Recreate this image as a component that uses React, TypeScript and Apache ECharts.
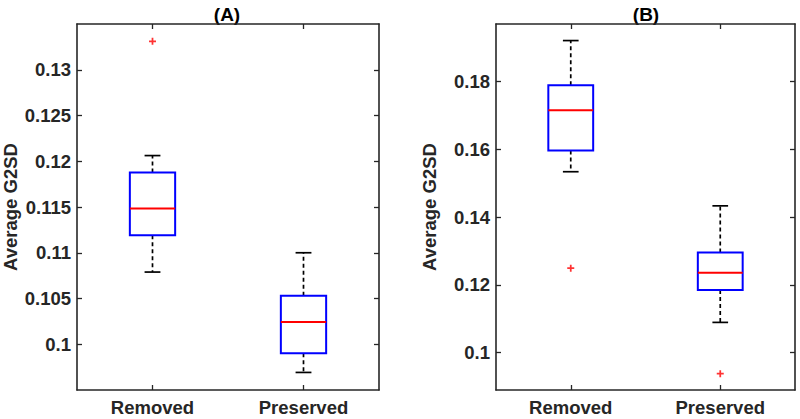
import React, { useEffect, useRef } from "react";
import * as echarts from "echarts";

const categories = ["Removed", "Preserved"];
// [min whisker, Q1, median, Q3, max whisker]
const boxesA = [
  [0.10789, 0.11192, 0.11483, 0.11877, 0.12062],
  [0.09692, 0.09902, 0.10243, 0.10529, 0.110],
];
const outliersA = [[0, 0.13311]];
const boxesB = [
  [0.15341, 0.1597, 0.17155, 0.17894, 0.19211],
  [0.10895, 0.11852, 0.12363, 0.12954, 0.14334],
];
const outliersB = [
  [0, 0.12493],
  [1, 0.0938],
];
const ticksA = [0.1, 0.105, 0.11, 0.115, 0.12, 0.125, 0.13];
const ticksB = [0.1, 0.12, 0.14, 0.16, 0.18];
const rangeA = [0.095, 0.135];
const rangeB = [0.089, 0.197];
const titles = ["(A)", "(B)"];
const yTitle = "Average G2SD";

const FONT = "'Liberation Sans', Arial, sans-serif";
const AX = "#262626";
const PLUS = "path://M3,0H5V3H8V5H5V8H3V5H0V3H3Z";

function renderBox(params: any, api: any) {
  const idx = api.value(0);
  const cx = api.coord([idx, api.value(1)])[0];
  const yMin = api.coord([idx, api.value(1)])[1];
  const yQ1 = api.coord([idx, api.value(2)])[1];
  const yMed = api.coord([idx, api.value(3)])[1];
  const yQ3 = api.coord([idx, api.value(4)])[1];
  const yMax = api.coord([idx, api.value(5)])[1];
  const band = api.size([1, 0])[0];
  const bw = band * 0.3;
  const cw = band * 0.105;
  const dash = { stroke: "#000", lineWidth: 1.7, lineDash: [4, 3] };
  const solid = { stroke: "#000", lineWidth: 1.7 };
  return {
    type: "group",
    children: [
      { type: "line", shape: { x1: cx, y1: yQ3, x2: cx, y2: yMax }, style: dash },
      { type: "line", shape: { x1: cx, y1: yQ1, x2: cx, y2: yMin }, style: dash },
      { type: "line", shape: { x1: cx - cw / 2, y1: yMax, x2: cx + cw / 2, y2: yMax }, style: solid },
      { type: "line", shape: { x1: cx - cw / 2, y1: yMin, x2: cx + cw / 2, y2: yMin }, style: solid },
      {
        type: "rect",
        shape: { x: cx - bw / 2, y: yQ3, width: bw, height: yQ1 - yQ3 },
        style: { fill: "#fff", stroke: "#0000ff", lineWidth: 2 },
      },
      {
        type: "line",
        shape: { x1: cx - bw / 2, y1: yMed, x2: cx + bw / 2, y2: yMed },
        style: { stroke: "#ff0000", lineWidth: 2 },
      },
    ],
  };
}

export default function App() {
  const ref = useRef<HTMLDivElement>(null);
  useEffect(() => {
    document.body.style.margin = "0";
    if (!ref.current) return;
    const chart = echarts.init(ref.current, null, { renderer: "svg" });
    const grids = [
      { left: 77, right: 421, top: 24, bottom: 29 },
      { left: 496, right: 5, top: 24, bottom: 29 },
    ];
    const panels = [
      { boxes: boxesA, outliers: outliersA, ticks: ticksA, range: rangeA },
      { boxes: boxesB, outliers: outliersB, ticks: ticksB, range: rangeB },
    ];
    const xAxis: any[] = [];
    const yAxis: any[] = [];
    const series: any[] = [];
    panels.forEach((p, i) => {
      const lineStyle = { color: AX, width: 1.6 };
      const tick = { show: true, inside: true, length: 5, lineStyle: { color: AX, width: 1.3 } };
      xAxis.push({
        type: "category",
        gridIndex: i,
        data: categories,
        position: "bottom",
        axisLine: { show: true, lineStyle },
        axisTick: { ...tick, alignWithLabel: true },
        axisLabel: { color: AX, fontFamily: FONT, fontWeight: "bold", fontSize: 18.5, margin: 8 },
        splitLine: { show: false },
      });
      xAxis.push({
        type: "category",
        gridIndex: i,
        data: categories,
        position: "top",
        axisLine: { show: true, lineStyle },
        axisTick: { ...tick, alignWithLabel: true },
        axisLabel: { show: false },
        splitLine: { show: false },
      });
      yAxis.push({
        type: "value",
        gridIndex: i,
        min: p.range[0],
        max: p.range[1],
        position: "left",
        axisLine: { show: true, lineStyle },
        axisTick: { ...tick, customValues: p.ticks },
        axisLabel: {
          customValues: p.ticks,
          color: AX,
          fontFamily: FONT,
          fontWeight: "bold",
          fontSize: 18.5,
          margin: 6,
          formatter: (v: number) => String(parseFloat(v.toFixed(4))),
        },
        splitLine: { show: false },
        name: yTitle,
        nameLocation: "middle",
        nameGap: 57,
        nameTextStyle: { color: AX, fontFamily: FONT, fontWeight: "bold", fontSize: 18.5 },
      });
      yAxis.push({
        type: "value",
        gridIndex: i,
        min: p.range[0],
        max: p.range[1],
        position: "right",
        axisLine: { show: true, lineStyle },
        axisTick: { ...tick, customValues: p.ticks },
        axisLabel: { show: false },
        splitLine: { show: false },
      });
      series.push({
        type: "custom",
        xAxisIndex: i * 2,
        yAxisIndex: i * 2,
        renderItem: renderBox,
        encode: { x: 0, y: [1, 2, 3, 4, 5] },
        data: p.boxes.map((b, k) => [k, ...b]),
        z: 2,
      });
      series.push({
        type: "scatter",
        xAxisIndex: i * 2,
        yAxisIndex: i * 2,
        symbol: PLUS,
        symbolSize: 7,
        itemStyle: { color: "#ff0000" },
        data: p.outliers,
        z: 3,
      });
    });
    chart.setOption({
      animation: false,
      backgroundColor: "#fff",
      grid: grids,
      xAxis,
      yAxis,
      series,
      graphic: [
        {
          type: "text",
          x: 227,
          y: 14,
          style: {
            text: titles[0],
            fill: "#000",
            font: `bold 19px ${FONT}`,
            textAlign: "center",
            textVerticalAlign: "middle",
          },
        },
        {
          type: "text",
          x: 646,
          y: 14,
          style: {
            text: titles[1],
            fill: "#000",
            font: `bold 19px ${FONT}`,
            textAlign: "center",
            textVerticalAlign: "middle",
          },
        },
      ],
    });
    return () => chart.dispose();
  }, []);
  return <div ref={ref} style={{ width: 800, height: 419 }} />;
}
